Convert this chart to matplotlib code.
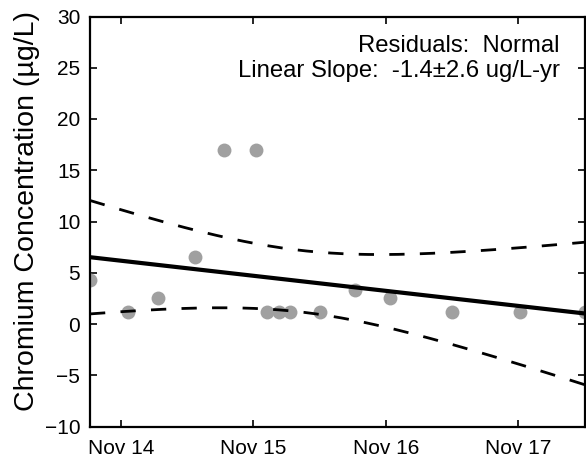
import matplotlib
matplotlib.use("Agg")
import matplotlib.pyplot as plt
import matplotlib.dates as mdates
import numpy as np
import pandas as pd

# sample dates and chromium results (ug/L)
sample_dates = ["2014-08-07", "2014-11-21", "2015-02-12", "2015-05-24",
                "2015-08-12", "2015-11-08", "2015-12-08", "2016-01-12",
                "2016-02-10", "2016-05-03", "2016-08-08", "2016-11-13",
                "2017-05-04", "2017-11-07", "2018-05-04"]
chromium = [4.3, 1.2, 2.5, 6.5, 17.0, 17.0, 1.2, 1.2,
            1.2, 1.2, 3.3, 2.5, 1.2, 1.2, 1.2]

tick_dates = ["2014-11-01", "2015-11-01", "2016-11-01", "2017-11-01"]
y_ticks = [-10, -5, 0, 5, 10, 15, 20, 25, 30]
stats_text = "Residuals:  Normal\nLinear Slope:  -1.4\u00b12.6 ug/L-yr"

plt.rcParams["font.family"] = ["Liberation Sans", "DejaVu Sans"]

dates = pd.to_datetime(sample_dates)
x = mdates.date2num(dates)
y = np.array(chromium)

# ordinary least squares fit with 95% confidence band for the mean
t_yr = (x - x.mean()) / 365.25
n = len(y)
slope, icept = np.polyfit(t_yr, y, 1)
resid = y - (slope * t_yr + icept)
s = np.sqrt(np.sum(resid ** 2) / (n - 2))
sxx = np.sum(t_yr ** 2)
t_crit = 2.160  # t(0.975, 13)

xg = np.linspace(x.min(), x.max(), 200)
tg = (xg - x.mean()) / 365.25
fit = slope * tg + icept
hw = t_crit * s * np.sqrt(1.0 / n + tg ** 2 / sxx)

fig = plt.figure(figsize=(5.86, 4.59), dpi=100)
ax = fig.add_axes([90 / 586, 32.5 / 459, 494.5 / 586, 410 / 459])

ax.plot(mdates.num2date(x), y, "o", color="#a0a0a0", markersize=10,
        markeredgewidth=0, zorder=2)
xg_d = mdates.num2date(xg)
ax.plot(xg_d, fit, color="black", lw=3, zorder=3)
ax.plot(xg_d, fit + hw, color="black", lw=2, dashes=(5.5, 5.5), zorder=3)
ax.plot(xg_d, fit - hw, color="black", lw=2, dashes=(5.5, 5.5), zorder=3)

ax.set_xlim(dates.min(), dates.max())
ax.set_ylim(-10, 30)
ax.set_yticks(y_ticks)
ax.set_xticks(pd.to_datetime(tick_dates))
ax.xaxis.set_major_formatter(mdates.DateFormatter("%b %y"))

for sp in ax.spines.values():
    sp.set_linewidth(1.6)
ax.tick_params(direction="in", length=5, width=1.2, top=True, right=True)
ax.tick_params(axis="y", labelsize=15, pad=7)
ax.tick_params(axis="x", labelsize=15, pad=9)

ax.set_ylabel("Chromium Concentration (\u00b5g/L)", fontsize=20.5, labelpad=3)
ax.yaxis.label.set_y(0.526)

ax.text(0.95, 0.955, stats_text, transform=ax.transAxes, ha="right",
        va="top", fontsize=17.2, linespacing=1.15, multialignment="right")

fig.savefig("out.png", dpi=100)
